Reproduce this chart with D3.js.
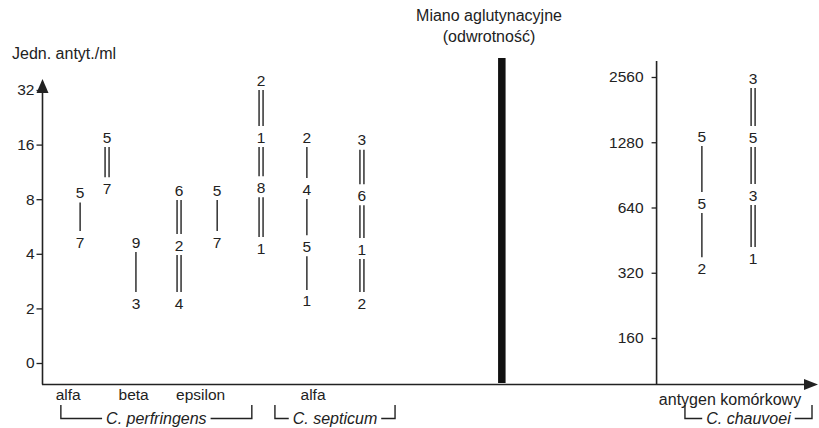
<!DOCTYPE html>
<html>
<head>
<meta charset="utf-8">
<script src="https://cdn.jsdelivr.net/npm/d3@7"></script>
<style>
  body { margin: 0; background: #fff; }
  svg { display: block; font-family: "Liberation Sans", Arial, sans-serif; }
  text { fill: #222; }
</style>
</head>
<body>
<svg id="chart" width="819" height="428"></svg>
<script>
// Toxin antibody units (left) and agglutination titres (right), Clostridium vaccines

// left axis: antitoxin units per ml (log2, "0" sits one step below 2)
var leftTicks = [1, 2, 4, 8, 16, 32];
var leftTickLabels = ["0", "2", "4", "8", "16", "32"];

// right axis: agglutination titre (reciprocal)
var rightTicks = [160, 320, 640, 1280, 2560];

// columns on the left, slot = position along the x axis
var leftSlots  = [0.99, 1.69, 2.44, 3.56, 4.55, 5.69, 6.88, 8.31];
var leftTiters = [[8.7, 4.65], [17.6, 9.2], [4.65, 2.14], [9.0, 4.47, 2.14], [9.0, 4.65],
                  [36.3, 17.6, 9.3, 4.3], [17.6, 9.1, 4.4, 2.2], [17.0, 8.4, 4.25, 2.14]];
var leftCounts = [["5", "7"], ["5", "7"], ["9", "3"], ["6", "2", "4"], ["5", "7"],
                  ["2", "1", "8", "1"], ["2", "4", "5", "1"], ["3", "6", "1", "2"]];
var leftLines  = [[1], [2], [1], [2, 2], [1], [2, 2, 2], [1, 1, 1], [2, 2, 2]];

// columns on the right
var rightSlots  = [17.14, 18.47];
var rightTiters = [[1368, 671, 336], [2532, 1354, 731, 374]];
var rightCounts = [["5", "5", "2"], ["3", "5", "3", "1"]];
var rightLines  = [[1, 1], [2, 2, 2]];

var categories    = ["alfa", "beta", "epsilon", "alfa"];
var categorySlots = [0.68, 2.38, 4.12, 7.04];

var groups     = ["C. perfringens", "C. septicum", "C. chauvoei"];
var groupSpans = [[0.49, 5.45], [6.05, 9.17], [16.7, 20.0]];

var svg = d3.select("#chart");
var ink = "#222";

var x = d3.scaleLinear().domain([0, 20]).range([42, 812]);
var yLeft = d3.scaleLog().base(2).domain([1, 32]).range([363, 90]);
var yRight = d3.scaleLog().base(2).domain([160, 2560]).range([338, 77]);

var baseY = 384.5;

///////////////////////////////////////////////////////////////////////////////
// Axes

var leftAxis = d3.axisLeft(yLeft)
  .tickValues(leftTicks)
  .tickFormat(function (d, i) { return leftTickLabels[i]; })
  .tickSize(6)
  .tickPadding(2);

var gl = svg.append("g")
  .attr("transform", "translate(" + (x(0) + 0.5) + ",0)")
  .call(leftAxis);
gl.select(".domain").remove();
gl.selectAll("line").attr("stroke", ink).attr("stroke-width", 1.3);
gl.selectAll("text").attr("font-size", 15.5).attr("fill", ink).style("font-family", "inherit");

svg.append("line")
  .attr("x1", x(0) + 0.5).attr("x2", x(0) + 0.5)
  .attr("y1", baseY).attr("y2", 90)
  .attr("stroke", ink).attr("stroke-width", 1.6);
svg.append("path")
  .attr("d", "M" + (x(0) + 0.5) + ",79 l6,14 h-12 z")
  .attr("fill", ink);

var rightAxis = d3.axisLeft(yRight)
  .tickValues(rightTicks)
  .tickFormat(d3.format("d"))
  .tickSize(5)
  .tickPadding(8);

var gr = svg.append("g")
  .attr("transform", "translate(" + (x(15.95) + 0.5) + ",0)")
  .call(rightAxis);
gr.select(".domain").remove();
gr.selectAll("line").attr("stroke", ink).attr("stroke-width", 1.3);
gr.selectAll("text").attr("font-size", 15.5).attr("fill", ink).style("font-family", "inherit");

svg.append("line")
  .attr("x1", x(15.95) + 0.5).attr("x2", x(15.95) + 0.5)
  .attr("y1", baseY).attr("y2", 61)
  .attr("stroke", ink).attr("stroke-width", 1.6);

// horizontal axis with arrow
svg.append("line")
  .attr("x1", x(0)).attr("x2", 808)
  .attr("y1", baseY).attr("y2", baseY)
  .attr("stroke", ink).attr("stroke-width", 1.6);
svg.append("path")
  .attr("d", "M818," + baseY + " l-14,-5.5 v11 z")
  .attr("fill", ink);

// thick separator bar
svg.append("rect")
  .attr("x", x(11.95) - 4).attr("width", 7.5)
  .attr("y", 58).attr("height", baseY - 58 - 1.5)
  .attr("fill", "#111");

///////////////////////////////////////////////////////////////////////////////
// Range columns

var drawColumn = function (slot, titers, counts, lines, y) {
  var cx = x(slot);
  var g = svg.append("g");

  titers.forEach(function (t, i) {
    g.append("text")
      .attr("x", cx).attr("y", y(t))
      .attr("dy", "0.36em")
      .attr("text-anchor", "middle")
      .attr("font-size", 15.5)
      .text(counts[i]);
  });

  lines.forEach(function (kind, i) {
    var y1 = y(titers[i]) + 10,
        y2 = y(titers[i + 1]) - 11,
        offs = kind === 2 ? [-2, 2] : [0];
    offs.forEach(function (o) {
      g.append("line")
        .attr("x1", cx + o).attr("x2", cx + o)
        .attr("y1", y1).attr("y2", y2)
        .attr("stroke", ink).attr("stroke-width", 1.4);
    });
  });
};

leftSlots.forEach(function (s, i) {
  drawColumn(s, leftTiters[i], leftCounts[i], leftLines[i], yLeft);
});
rightSlots.forEach(function (s, i) {
  drawColumn(s, rightTiters[i], rightCounts[i], rightLines[i], yRight);
});

///////////////////////////////////////////////////////////////////////////////
// Labels

svg.selectAll("text.cat")
  .data(categories)
  .enter().append("text")
  .attr("class", "cat")
  .attr("x", function (d, i) { return x(categorySlots[i]); })
  .attr("y", 394)
  .attr("dy", "0.36em")
  .attr("text-anchor", "middle")
  .attr("font-size", 15.5)
  .text(function (d) { return d; });

svg.append("text")
  .attr("x", 730).attr("y", 399).attr("dy", "0.36em")
  .attr("text-anchor", "middle")
  .attr("font-size", 16)
  .text("antygen komórkowy");

svg.append("text")
  .attr("x", 12).attr("y", 53).attr("dy", "0.36em")
  .attr("font-size", 16)
  .text("Jedn. antyt./ml");

svg.append("text")
  .attr("x", 489).attr("y", 15).attr("dy", "0.36em")
  .attr("text-anchor", "middle")
  .attr("font-size", 16)
  .text("Miano aglutynacyjne");
svg.append("text")
  .attr("x", 489).attr("y", 36).attr("dy", "0.36em")
  .attr("text-anchor", "middle")
  .attr("font-size", 16)
  .text("(odwrotność)");

// group brackets
var bracketY = 418.5;
groups.forEach(function (name, i) {
  var x1 = x(groupSpans[i][0]),
      x2 = x(groupSpans[i][1]),
      mid = (x1 + x2) / 2;

  var t = svg.append("text")
    .attr("x", mid).attr("y", bracketY).attr("dy", "0.36em")
    .attr("text-anchor", "middle")
    .attr("font-size", 16)
    .attr("font-style", "italic")
    .text(name);
  var w = t.node().getComputedTextLength();

  svg.append("path")
    .attr("d", "M" + x1 + ",405 V" + bracketY + " H" + (mid - w / 2 - 4) +
               " M" + (mid + w / 2 + 4) + "," + bracketY + " H" + x2 + " V405")
    .attr("fill", "none")
    .attr("stroke", ink)
    .attr("stroke-width", 1.4);
});
</script>
</body>
</html>
